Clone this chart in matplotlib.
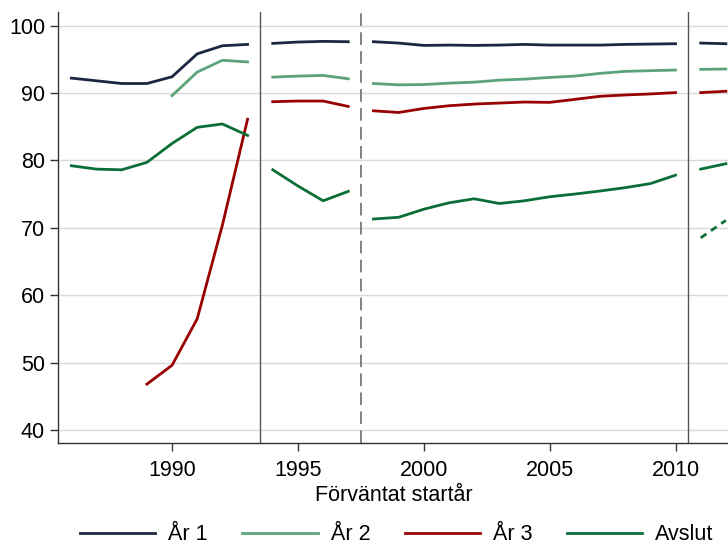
import numpy as np
import matplotlib.pyplot as plt

plt.rcParams['font.family'] = ['Liberation Sans Narrow', 'Liberation Sans', 'DejaVu Sans']

# Data, split in segments (breaks at 1993.5, 1997.5, 2010.5)
years_a = [1986, 1987, 1988, 1989, 1990, 1991, 1992, 1993]
ar1_a = [92.2, 91.8, 91.4, 91.4, 92.4, 95.8, 97.0, 97.2]
ar2_a_years = [1990, 1991, 1992, 1993]
ar2_a = [89.6, 93.1, 94.85, 94.6]
ar3_a_years = [1989, 1990, 1991, 1992, 1993]
ar3_a = [46.8, 49.6, 56.5, 70.4, 86.1]
avslut_a = [79.2, 78.7, 78.6, 79.7, 82.5, 84.9, 85.4, 83.7]

years_b = [1994, 1995, 1996, 1997]
ar1_b = [97.35, 97.55, 97.65, 97.6]
ar2_b = [92.35, 92.5, 92.6, 92.1]
ar3_b = [88.7, 88.8, 88.8, 88.0]
avslut_b = [78.6, 76.2, 74.0, 75.4]

years_c = [1998, 1999, 2000, 2001, 2002, 2003, 2004, 2005, 2006, 2007, 2008, 2009, 2010]
ar1_c = [97.6, 97.4, 97.05, 97.1, 97.05, 97.1, 97.2, 97.1, 97.1, 97.1, 97.2, 97.25, 97.3]
ar2_c = [91.4, 91.2, 91.25, 91.45, 91.6, 91.9, 92.05, 92.3, 92.5, 92.9, 93.2, 93.3, 93.4]
ar3_c = [87.35, 87.1, 87.7, 88.1, 88.35, 88.5, 88.65, 88.6, 89.05, 89.5, 89.7, 89.85, 90.05]
avslut_c = [71.3, 71.55, 72.75, 73.7, 74.3, 73.6, 74.0, 74.6, 75.0, 75.45, 75.95, 76.55, 77.8]

years_d = [2011, 2012]
ar1_d = [97.4, 97.3]
ar2_d = [93.5, 93.55]
ar3_d = [90.05, 90.25]
avslut_d = [78.7, 79.5]
avslut_d_dashed = [68.5, 71.1]

c1 = '#1b2740'
c2 = '#5ba47b'
c3 = '#990000'
c4 = '#0b6e36'
lw = 2.0

fig = plt.figure(figsize=(7.28, 5.48), dpi=100)
ax = fig.add_axes([0.079, 0.192, 0.925, 0.786])

for v in [40, 50, 60, 70, 80, 90, 100]:
    ax.axhline(v, color='#d9d9d9', lw=1.0, zorder=0)

ax.axvline(1993.5, color='#555555', lw=1.0)
ax.axvline(1997.5, color='#777777', lw=1.3, ls=(0, (7, 3.5)))
ax.axvline(2010.5, color='#555555', lw=1.0)

ax.plot(years_a, ar1_a, color=c1, lw=lw, label='År 1')
ax.plot(ar2_a_years, ar2_a, color=c2, lw=lw, label='År 2')
ax.plot(ar3_a_years, ar3_a, color=c3, lw=lw, label='År 3')
ax.plot(years_a, avslut_a, color=c4, lw=lw, label='Avslut')

for yrs, s1, s2, s3, s4 in [(years_b, ar1_b, ar2_b, ar3_b, avslut_b),
                            (years_c, ar1_c, ar2_c, ar3_c, avslut_c),
                            (years_d, ar1_d, ar2_d, ar3_d, avslut_d)]:
    ax.plot(yrs, s1, color=c1, lw=lw)
    ax.plot(yrs, s2, color=c2, lw=lw)
    ax.plot(yrs, s3, color=c3, lw=lw)
    ax.plot(yrs, s4, color=c4, lw=lw)
ax.plot(years_d, avslut_d_dashed, color=c4, lw=lw, ls=(0, (2.5, 2)))

ax.set_xlim(1985.45, 2012.2)
ax.set_ylim(38.1, 102)
ax.set_xticks([1990, 1995, 2000, 2005, 2010])
ax.set_yticks([40, 50, 60, 70, 80, 90, 100])
ax.tick_params(labelsize=15.5, length=5.5, width=1.0, color='#333333')
ax.tick_params(axis='x', pad=7)
for s in ['top', 'right']:
    ax.spines[s].set_visible(False)
for s in ['left', 'bottom']:
    ax.spines[s].set_color('#333333')
    ax.spines[s].set_linewidth(1.0)

ax.set_xlabel('Förväntat startår', fontsize=15.5, labelpad=3)

fig.legend(loc='lower center', bbox_to_anchor=(0.545, -0.03), ncol=4, frameon=False,
           fontsize=15.5, handlelength=3.5, columnspacing=1.6, handletextpad=0.6)

fig.savefig('out.png', dpi=100)
